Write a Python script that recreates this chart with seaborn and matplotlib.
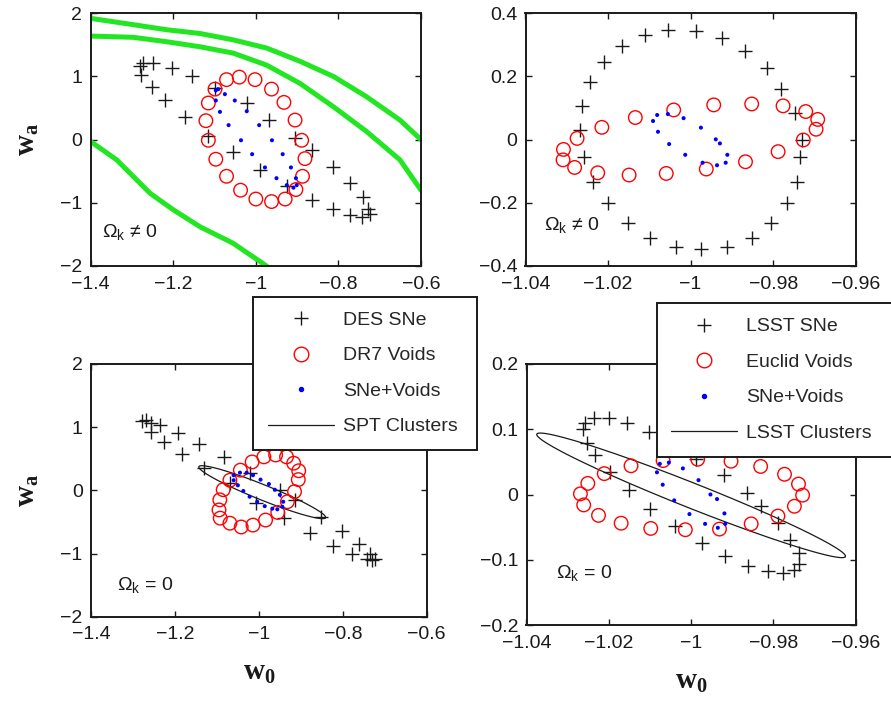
import numpy as np
import matplotlib
matplotlib.use("Agg")
import matplotlib.pyplot as plt
import seaborn as sns
from matplotlib.lines import Line2D
from matplotlib.ticker import FuncFormatter

sns.set_theme(style="white")
plt.rcParams['font.family'] = ['Liberation Sans', 'DejaVu Sans']
plt.rcParams['mathtext.fontset'] = 'custom'
plt.rcParams['mathtext.rm'] = 'Liberation Sans'
plt.rcParams['mathtext.it'] = 'Liberation Sans'
plt.rcParams['mathtext.bf'] = 'Liberation Serif:bold'

# ---------------- Panel 1: DES SNe / DR7 voids, Omega_k != 0 ----------------
p1_sne_w0 = [-1.280, -1.273, -1.248, -1.277, -1.252, -1.204, -1.155, -1.220, -1.172, -1.115,
             -1.099, -1.022, -0.967, -0.905, -0.865, -1.055, -0.990, -0.925, -0.865, -0.812,
             -0.772, -0.812, -0.740, -0.772, -0.744, -0.728, -0.724]
p1_sne_wa = [1.16, 1.21, 1.21, 1.02, 0.83, 1.13, 1.00, 0.63, 0.36, 0.05,
             0.81, 0.58, 0.31, 0.02, -0.16, -0.19, -0.48, -0.74, -0.95, -0.43,
             -0.69, -1.09, -0.90, -1.19, -1.22, -1.09, -1.17]
p1_void_w0 = [-1.099, -1.071, -1.040, -1.002, -0.962, -0.932, -0.905, -0.889, -0.881, -0.887,
              -0.903, -0.929, -0.962, -1.000, -1.037, -1.071, -1.097, -1.115, -1.121, -1.115]
p1_void_wa = [0.80, 0.95, 0.99, 0.95, 0.80, 0.59, 0.31, -0.01, -0.30, -0.58,
              -0.79, -0.94, -0.98, -0.94, -0.80, -0.58, -0.31, -0.01, 0.30, 0.58]
p1_comb_w0 = [-1.097, -1.091, -1.075, -1.097, -1.087, -1.051, -1.022, -1.066, -0.992, -1.036,
              -0.961, -1.009, -0.935, -0.978, -0.915, -0.950, -0.903, -0.925, -0.909, -0.901]
p1_comb_wa = [0.78, 0.80, 0.72, 0.62, 0.44, 0.62, 0.45, 0.23, 0.23, -0.01,
              -0.01, -0.23, -0.23, -0.44, -0.44, -0.61, -0.61, -0.72, -0.76, -0.72]
# green contours (Omega_k != 0 prior)
g1_w0 = [-1.400, -1.297, -1.216, -1.135, -1.055, -0.974, -0.893, -0.812, -0.732, -0.651, -0.600]
g1_wa = [1.92, 1.82, 1.74, 1.68, 1.58, 1.45, 1.24, 1.00, 0.68, 0.31, 0.00]
g2_w0 = [-1.400, -1.297, -1.216, -1.135, -1.055, -0.974, -0.893, -0.812, -0.732, -0.651, -0.600]
g2_wa = [1.64, 1.62, 1.55, 1.47, 1.37, 1.18, 0.89, 0.52, 0.13, -0.32, -0.80]
g3_w0 = [-1.400, -1.337, -1.256, -1.200, -1.135, -1.055, -0.974]
g3_wa = [-0.03, -0.32, -0.85, -1.11, -1.38, -1.64, -2.00]

# ---------------- Panel 2: LSST SNe / Euclid voids, Omega_k != 0 ----------------
p2_sne_w0 = [-1.0055, -0.9988, -0.9925, -0.9869, -0.9816, -0.9780, -0.9747, -0.9731, -0.9735,
             -0.9743, -0.9767, -0.9806, -0.9852, -0.9911, -0.9974, -1.0036, -1.0098, -1.0152,
             -1.0200, -1.0237, -1.0259, -1.0269, -1.0263, -1.0243, -1.0211, -1.0165, -1.0111]
p2_sne_wa = [0.347, 0.344, 0.321, 0.282, 0.226, 0.159, 0.083, -0.001, -0.054,
             -0.133, -0.202, -0.265, -0.310, -0.339, -0.347, -0.339, -0.310, -0.265,
             -0.202, -0.133, -0.054, 0.031, 0.107, 0.184, 0.247, 0.298, 0.331]
p2_void_w0 = [-1.0308, -1.0309, -1.0281, -1.0275, -1.0225, -1.0215, -1.0149, -1.0134, -1.0059, -1.0041,
              -0.9962, -0.9944, -0.9867, -0.9852, -0.9788, -0.9776, -0.9727, -0.9721, -0.9696, -0.9692]
p2_void_wa = [-0.031, -0.064, -0.088, 0.004, -0.105, 0.039, -0.112, 0.070, -0.107, 0.094,
              -0.093, 0.110, -0.070, 0.113, -0.038, 0.107, -0.001, 0.089, 0.033, 0.064]
p2_comb_w0 = [-1.0091, -1.0081, -1.0055, -1.0017, -1.0079, -1.0052, -1.0013, -0.9975, -0.9971,
              -0.9939, -0.9929, -0.9936, -0.9915, -0.9911]
p2_comb_wa = [0.059, 0.078, 0.081, 0.068, 0.025, -0.014, -0.048, 0.038, -0.073,
              0.001, -0.012, -0.081, -0.073, -0.048]

# ---------------- Panel 3: DES SNe / DR7 voids / SPT clusters, Omega_k = 0 ----------------
p3_sne_w0 = [-1.278, -1.268, -1.258, -1.235, -1.257, -1.227, -1.192, -1.183, -1.142, -1.130,
             -1.082, -1.068, -1.020, -1.006, -0.950, -0.939, -0.915, -0.877, -0.851, -0.823,
             -0.801, -0.777, -0.761, -0.742, -0.735, -0.730, -0.723]
p3_sne_wa = [1.10, 1.11, 1.06, 1.03, 0.93, 0.77, 0.91, 0.57, 0.73, 0.35,
             0.52, 0.11, 0.27, -0.20, 0.01, -0.44, -0.16, -0.68, -0.42, -0.88,
             -0.64, -1.01, -0.85, -1.09, -1.00, -1.10, -1.08]
p3_void_w0 = [-1.044, -1.016, -0.988, -0.960, -0.934, -0.917, -0.905, -0.906, -0.915, -0.932,
              -0.955, -0.984, -1.014, -1.042, -1.069, -1.092, -1.095, -1.093, -1.085, -1.069]
p3_void_wa = [0.32, 0.45, 0.53, 0.56, 0.53, 0.43, 0.31, 0.17, -0.02, -0.18,
              -0.35, -0.47, -0.55, -0.58, -0.52, -0.44, -0.31, -0.15, 0.01, 0.16]
p3_comb_w0 = [-1.060, -1.045, -1.029, -1.014, -1.060, -1.050, -1.037, -1.022, -0.996, -1.004,
              -0.976, -0.986, -0.962, -0.968, -0.950, -0.956, -0.942, -0.944]
p3_comb_wa = [0.24, 0.28, 0.28, 0.24, 0.16, 0.08, -0.01, -0.10, 0.17, -0.18,
              0.10, -0.25, 0.01, -0.29, -0.07, -0.30, -0.18, -0.26]
p3_clu_center = [-0.992, -0.029]
p3_clu_major = [0.151, -0.404]
p3_clu_minor = [-0.0068, -0.112]

# ---------------- Panel 4: LSST SNe / Euclid voids / LSST clusters, Omega_k = 0 ----------------
p4_sne_w0 = [-1.0263, -1.0259, -1.0253, -1.0235, -1.0200, -1.0233, -1.0196, -1.0156, -1.0152,
             -1.0102, -1.0099, -1.0042, -1.0038, -0.9988, -0.9974, -0.9921, -0.9917, -0.9865,
             -0.9861, -0.9831, -0.9812, -0.9790, -0.9776, -0.9759, -0.9750, -0.9739, -0.9737]
p4_sne_wa = [0.100, 0.110, 0.079, 0.118, 0.118, 0.060, 0.034, 0.110, 0.007,
             0.096, -0.022, 0.081, -0.049, 0.054, -0.074, 0.030, -0.094, 0.002,
             -0.109, -0.018, -0.118, -0.044, -0.120, -0.069, -0.116, -0.090, -0.107]
p4_void_w0 = [-1.0269, -1.0261, -1.0251, -1.0225, -1.0211, -1.0170, -1.0146, -1.0098, -1.0068, -1.0014,
              -0.9984, -0.9931, -0.9903, -0.9854, -0.9831, -0.9789, -0.9773, -0.9749, -0.9739, -0.9729]
p4_void_wa = [0.001, -0.016, 0.017, -0.032, 0.032, -0.044, 0.044, -0.052, 0.052, -0.054,
              0.054, -0.053, 0.051, -0.045, 0.043, -0.033, 0.031, -0.018, 0.016, -0.001]
p4_comb_w0 = [-1.0076, -1.0054, -1.0020, -1.0083, -1.0069, -0.9982, -1.0041, -0.9953, -0.9937,
              -1.0004, -0.9919, -0.9966, -0.9935, -0.9917]
p4_comb_wa = [0.047, 0.049, 0.040, 0.034, 0.015, 0.022, -0.009, 0.000, -0.007,
              -0.030, -0.029, -0.045, -0.051, -0.045]
p4_clu_center = [-1.000, -0.0013]
p4_clu_major = [0.0375, -0.0938]
p4_clu_minor = [-0.0011, -0.0178]

legend1_labels = ["DES SNe", "DR7 Voids", "SNe+Voids", "SPT Clusters"]
legend2_labels = ["LSST SNe", "Euclid Voids", "SNe+Voids", "LSST Clusters"]

# ---------------- drawing ----------------
W, H = 891, 705
fig = plt.figure(figsize=(W / 100, H / 100), dpi=100)

def px_axes(l, t, r, b):
    return fig.add_axes([l / W, 1 - b / H, (r - l) / W, (b - t) / H])

ax1 = px_axes(90.7, 13.3, 421.0, 266.0)
ax2 = px_axes(525.5, 13.3, 855.7, 266.0)
ax3 = px_axes(91.0, 364.0, 426.7, 616.7)
ax4 = px_axes(526.5, 364.0, 855.7, 625.0)

FS = 14

def fmt(v, pos):
    s = f"{round(v, 6):g}"
    return s.replace('-', '\u2212')

def scatter_sets(ax, sne, void, comb):
    sns.scatterplot(x=sne[0], y=sne[1], ax=ax, marker='+', s=100, color='k',
                    linewidth=1.0, zorder=3)
    sns.scatterplot(x=void[0], y=void[1], ax=ax, marker='o', s=95, color='red',
                    facecolor='none', edgecolor='red', linewidth=1.0, zorder=3)
    sns.scatterplot(x=comb[0], y=comb[1], ax=ax, marker='o', s=8.5, color='blue',
                    edgecolor='none', linewidth=0, zorder=4)

def ellipse(ax, c, a, b):
    t = np.linspace(0, 2 * np.pi, 241)
    ex = c[0] + a[0] * np.cos(t) + b[0] * np.sin(t)
    ey = c[1] + a[1] * np.cos(t) + b[1] * np.sin(t)
    sns.lineplot(x=ex, y=ey, ax=ax, sort=False, estimator=None, color='k',
                 linewidth=0.9, zorder=2)

def style(ax, xlim, ylim, xt, yt):
    ax.set_xlim(*xlim)
    ax.set_ylim(*ylim)
    ax.set_xticks(xt)
    ax.set_yticks(yt)
    ax.xaxis.set_major_formatter(FuncFormatter(fmt))
    ax.yaxis.set_major_formatter(FuncFormatter(fmt))
    ax.tick_params(direction='in', length=4, width=1.0, top=True, right=True,
                   bottom=True, left=True, labelsize=FS, colors='k')
    ax.tick_params(axis='x', pad=7)
    ax.tick_params(axis='y', pad=6)
    for sp in ax.spines.values():
        sp.set_visible(True)
        sp.set_color('k')
        sp.set_linewidth(1.4)
    ax.grid(False)
    ax.set_facecolor('white')
    ax.set_xlabel('')
    ax.set_ylabel('')

# Panel 1
for gx, gy in [(g1_w0, g1_wa), (g2_w0, g2_wa), (g3_w0, g3_wa)]:
    sns.lineplot(x=gx, y=gy, ax=ax1, sort=False, estimator=None, color='#22e622',
                 linewidth=3.6, zorder=1)
scatter_sets(ax1, (p1_sne_w0, p1_sne_wa), (p1_void_w0, p1_void_wa), (p1_comb_w0, p1_comb_wa))
style(ax1, (-1.4, -0.6), (-2, 2), [-1.4, -1.2, -1.0, -0.8, -0.6], [-2, -1, 0, 1, 2])

# Panel 2
scatter_sets(ax2, (p2_sne_w0, p2_sne_wa), (p2_void_w0, p2_void_wa), (p2_comb_w0, p2_comb_wa))
style(ax2, (-1.04, -0.96), (-0.4, 0.4), [-1.04, -1.02, -1.0, -0.98, -0.96],
      [-0.4, -0.2, 0, 0.2, 0.4])

# Panel 3
ellipse(ax3, p3_clu_center, p3_clu_major, p3_clu_minor)
scatter_sets(ax3, (p3_sne_w0, p3_sne_wa), (p3_void_w0, p3_void_wa), (p3_comb_w0, p3_comb_wa))
style(ax3, (-1.4, -0.6), (-2, 2), [-1.4, -1.2, -1.0, -0.8, -0.6], [-2, -1, 0, 1, 2])

# Panel 4
ellipse(ax4, p4_clu_center, p4_clu_major, p4_clu_minor)
scatter_sets(ax4, (p4_sne_w0, p4_sne_wa), (p4_void_w0, p4_void_wa), (p4_comb_w0, p4_comb_wa))
style(ax4, (-1.04, -0.96), (-0.2, 0.2), [-1.04, -1.02, -1.0, -0.98, -0.96],
      [-0.2, -0.1, 0, 0.1, 0.2])

# Omega_k annotations
ok_ne = '$\\Omega_{k}$ \u2260 0'
ok_eq = '$\\Omega_{k}$ = 0'
ax1.text(0.033, 0.116, ok_ne, transform=ax1.transAxes, fontsize=FS, va='baseline', color='k')
ax2.text(0.055, 0.142, ok_ne, transform=ax2.transAxes, fontsize=FS, va='baseline', color='k')
ax3.text(0.077, 0.106, ok_eq, transform=ax3.transAxes, fontsize=FS, va='baseline', color='k')
ax4.text(0.091, 0.180, ok_eq, transform=ax4.transAxes, fontsize=FS, va='baseline', color='k')

# axis labels
for ax in (ax1, ax3):
    ax.set_ylabel(r'$\mathbf{w}_\mathbf{a}$', fontsize=21, color='k')
ax1.yaxis.set_label_coords(-0.15, 0.5)
ax3.yaxis.set_label_coords(-0.149, 0.5)
for ax in (ax3, ax4):
    ax.set_xlabel(r'$\mathbf{w}_\mathbf{0}$', fontsize=21, color='k')
ax3.xaxis.set_label_coords(0.5, -0.165)
ax4.xaxis.set_label_coords(0.5, -0.16)

# legends
def handles():
    return [Line2D([], [], ls='none', marker='+', color='k', markersize=10, markeredgewidth=1.0),
            Line2D([], [], ls='none', marker='o', markerfacecolor='none', markeredgecolor='red',
                   markersize=10.5, markeredgewidth=1.0),
            Line2D([], [], ls='none', marker='o', color='blue', markersize=2.9),
            Line2D([], [], color='k', linewidth=0.9)]

def add_legend(ax, labels, l, t, r, b):
    leg = ax.legend(handles(), labels, loc='upper left',
                    bbox_to_anchor=(l / W, 1 - b / H, (r - l) / W, (b - t) / H),
                    bbox_transform=fig.transFigure, mode='expand', borderaxespad=0,
                    frameon=True, fancybox=False, framealpha=1, edgecolor='k',
                    fontsize=FS, handlelength=3.4, handletextpad=0.45,
                    labelspacing=0.92, borderpad=0.75, numpoints=1)
    leg.get_frame().set_linewidth(1.4)
    leg.get_frame().set_facecolor('white')
    leg.set_zorder(10)
    return leg

add_legend(ax3, legend1_labels, 253.3, 296.7, 477.3, 449.0)
add_legend(ax4, legend2_labels, 656.7, 303.3, 900.0, 455.0)

fig.savefig('out.png', dpi=100, facecolor='white')
